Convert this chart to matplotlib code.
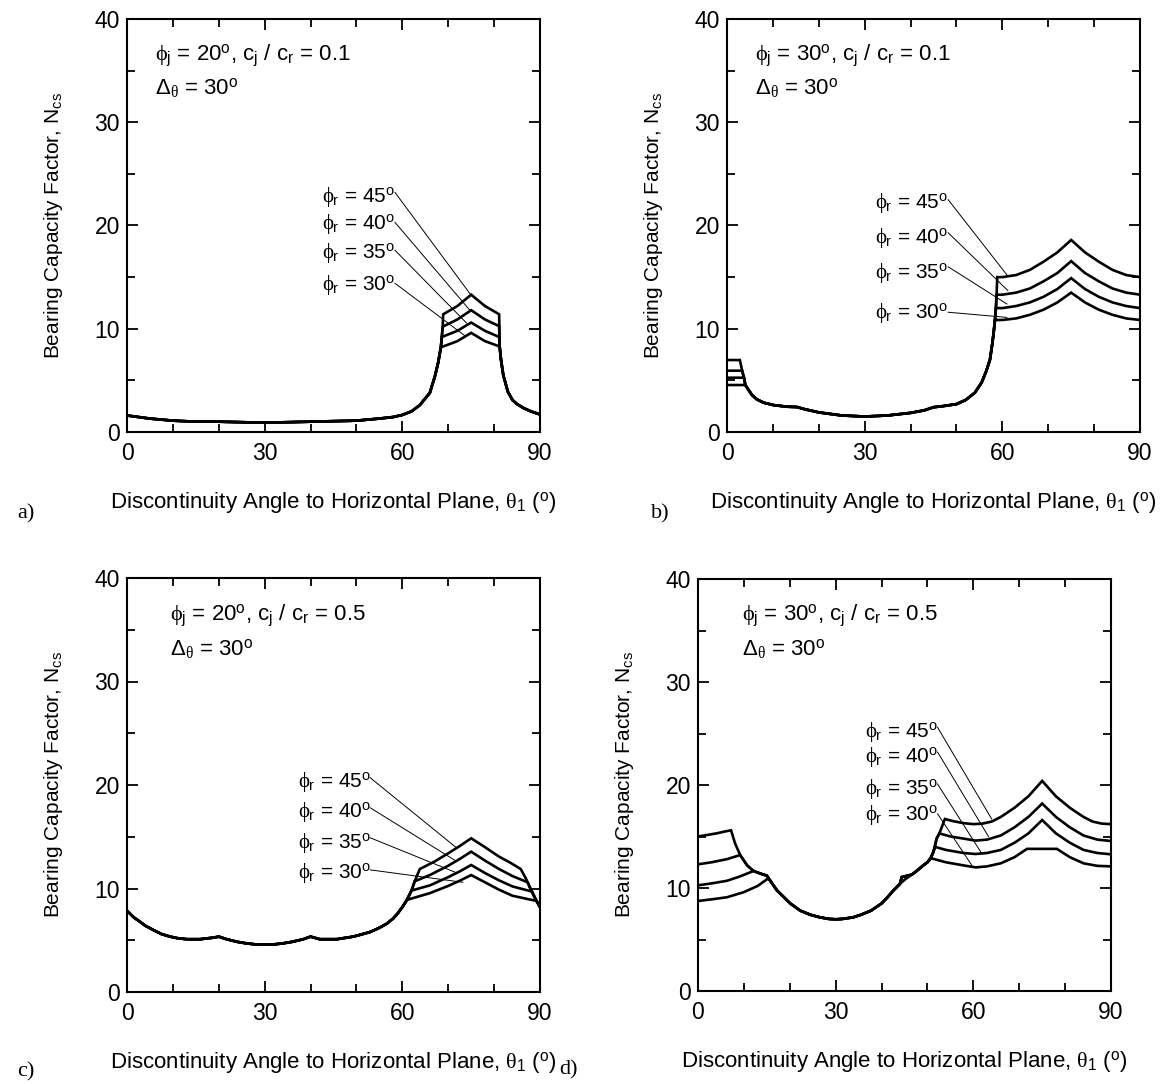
import matplotlib
matplotlib.use("Agg")
import matplotlib.pyplot as plt
from matplotlib.ticker import FixedLocator, MultipleLocator

plt.rcParams['font.family'] = ['Liberation Sans', 'DejaVu Sans']
plt.rcParams['mathtext.fontset'] = 'custom'
plt.rcParams['mathtext.rm'] = 'Liberation Sans'
plt.rcParams['mathtext.it'] = 'Liberation Serif'
plt.rcParams['mathtext.bf'] = 'Liberation Sans:bold'
plt.rcParams['mathtext.sf'] = 'Liberation Sans'

PHI_R = [45, 40, 35, 30]

# ---------------- Panel a: phi_j = 20, cj/cr = 0.1 ----------------
A_L_T = [0, 5, 10, 15, 20, 25, 30, 35, 40, 45, 50, 55, 58, 60, 62, 63.8, 66, 67.1, 67.8, 68.4]
A_L_N = [1.6, 1.3, 1.1, 1.0, 1.0, 0.95, 0.9, 0.95, 1.0, 1.05, 1.1, 1.3, 1.45, 1.65, 2.0, 2.6, 3.8, 5.4, 6.7, 8.2]
A45_T = [68.6, 68.8, 68.9, 72, 75, 78, 81.1]
A45_N = [9.2, 10.2, 11.4, 12.2, 13.3, 12.2, 11.4]
A40_T = [68.6, 68.8, 72, 75, 78, 81.1]
A40_N = [9.2, 10.2, 10.9, 11.8, 10.9, 10.25]
A35_T = [68.6, 72, 75, 78, 81.1]
A35_N = [9.2, 9.8, 10.6, 9.8, 9.2]
A30_T = [72, 75, 78, 81.1]
A30_N = [8.8, 9.6, 8.8, 8.3]
A_R_T = [81.2, 81.5, 82, 83, 84, 85, 86.5, 88, 90]
A_R_N = [8.3, 7.0, 5.5, 3.9, 3.1, 2.7, 2.3, 2.0, 1.7]
A_LAB_T = 42.5
A_LAB_N = [22.8, 20.1, 17.3, 14.2]
A_LEAD_T0 = 58.4
A_LEAD_N0 = [23.2, 20.3, 17.6, 14.4]
A_LEAD_T1 = [74.9, 74.7, 74.0, 73.7]
A_LEAD_N1 = [13.3, 11.8, 10.55, 9.3]

# ---------------- Panel b: phi_j = 30, cj/cr = 0.1 ----------------
B45_L_T = [0, 2.8, 3.3, 3.7]
B45_L_N = [6.97, 6.97, 5.94, 5.26]
B40_L_T = [0, 3.3, 3.7]
B40_L_N = [5.94, 5.94, 5.26]
B35_L_T = [0, 3.7]
B35_L_N = [5.26, 5.26]
B30_L_T = [0]
B30_L_N = [4.55]
B_M_T = [4.0, 4.7, 5.45, 6.5, 8, 10.2, 13.1, 15.2, 17, 20, 25, 30, 35, 40, 43, 45, 47, 50, 52, 54,
         55.5, 56.5, 57.3, 57.8, 58.1, 58.4]
B_M_N = [4.55, 4.07, 3.58, 3.16, 2.84, 2.6, 2.45, 2.42, 2.2, 1.9, 1.6, 1.5, 1.6, 1.85, 2.1, 2.4, 2.5, 2.7, 3.1, 3.8,
         4.8, 5.9, 7.0, 8.5, 9.6, 10.85]
B45_R_T = [58.6, 58.75, 58.9, 60, 63, 66, 69, 72, 75, 78, 81, 84, 87, 90]
B45_R_N = [12.0, 13.3, 15.0, 15.0, 15.2, 15.7, 16.5, 17.4, 18.6, 17.4, 16.5, 15.7, 15.2, 15.0]
B40_R_T = [58.6, 58.75, 60, 63, 66, 69, 72, 75, 78, 81, 84, 87, 90]
B40_R_N = [12.0, 13.3, 13.3, 13.5, 13.9, 14.6, 15.4, 16.55, 15.4, 14.6, 13.9, 13.5, 13.3]
B35_R_T = [58.6, 60, 63, 66, 69, 72, 75, 78, 81, 84, 87, 90]
B35_R_N = [12.0, 12.0, 12.2, 12.55, 13.1, 13.85, 14.9, 13.85, 13.1, 12.55, 12.2, 12.0]
B30_R_T = [60, 63, 66, 69, 72, 75, 78, 81, 84, 87, 90]
B30_R_N = [10.85, 11.0, 11.35, 11.85, 12.55, 13.5, 12.55, 11.85, 11.35, 11.0, 10.85]
B_LAB_T = 32.3
B_LAB_N = [22.2, 18.8, 15.4, 11.5]
B_LEAD_T0 = 48.2
B_LEAD_N0 = [22.5, 19.3, 16.0, 11.6]
B_LEAD_T1 = [61.2, 61.2, 61.0, 61.0]
B_LEAD_N1 = [15.1, 13.7, 12.4, 11.1]

# ---------------- Panel c: phi_j = 20, cj/cr = 0.5 ----------------
C_L_T = [0, 1.5, 2.8, 4, 5.7, 7.5, 9.4, 11, 13, 15.9, 18.8, 20, 21.7, 24, 26, 28, 30, 32, 34, 36, 38.4, 40,
         42, 45.7, 49.3, 51, 53, 55, 56.6, 58, 59, 60, 61]
C_L_N = [7.86, 7.2, 6.8, 6.4, 6.0, 5.6, 5.35, 5.2, 5.1, 5.1, 5.25, 5.35, 5.1, 4.85, 4.7, 4.6, 4.57, 4.6, 4.7, 4.85,
         5.1, 5.35, 5.1, 5.1, 5.35, 5.55, 5.8, 6.2, 6.6, 7.1, 7.6, 8.2, 8.9]
C45_T = [62, 62.7, 63.8, 67, 70, 72.5, 75, 78, 81, 83.5, 85.8, 87, 88, 89, 90]
C45_N = [9.8, 10.7, 11.88, 12.6, 13.4, 14.1, 14.85, 14.0, 13.1, 12.5, 11.88, 10.9, 9.9, 9.0, 8.2]
C40_T = [62, 62.7, 66, 70, 72.5, 75, 78, 81, 84, 87.3, 88, 89, 90]
C40_N = [9.8, 10.7, 11.3, 12.2, 12.85, 13.56, 12.7, 11.9, 11.2, 10.6, 9.9, 9.0, 8.2]
C35_T = [62, 66, 70, 72.5, 75, 78, 81, 84, 88.3, 89, 90]
C35_N = [9.8, 10.3, 11.1, 11.65, 12.27, 11.5, 10.8, 10.2, 9.7, 9.0, 8.2]
C30_T = [66, 70, 72.5, 75, 78, 81, 84, 89.2, 90]
C30_N = [9.55, 10.25, 10.75, 11.3, 10.6, 9.9, 9.3, 8.8, 8.2]
C_LAB_T = 37.3
C_LAB_N = [20.3, 17.4, 14.4, 11.5]
C_LEAD_T0 = 53.0
C_LEAD_N0 = [20.7, 17.8, 14.9, 11.8]
C_LEAD_T1 = [71.9, 71.9, 71.9, 73.2]
C_LEAD_N1 = [13.9, 12.6, 11.5, 10.6]

# ---------------- Panel d: phi_j = 30, cj/cr = 0.5 ----------------
D45_L_T = [0, 2, 4, 6, 7.2, 8.1, 9.2]
D45_L_N = [15.0, 15.15, 15.3, 15.5, 15.6, 14.3, 13.2]
D40_L_T = [0, 3, 6.3, 9.2]
D40_L_N = [12.3, 12.5, 12.8, 13.2]
D_S1_T = [10.7, 12.1]
D_S1_N = [12.2, 11.65]
D35_L_T = [0, 3, 6.3, 9, 12.1]
D35_L_N = [10.26, 10.45, 10.7, 11.1, 11.65]
D_S2_T = [13.6, 15.0]
D_S2_N = [11.4, 11.2]
D30_L_T = [0, 3, 6.3, 10, 13, 15.2]
D30_L_N = [8.74, 8.9, 9.1, 9.6, 10.2, 10.9]
D_M_T = [15.6, 17.2, 20.1, 22.3, 24.5, 26.6, 28.5, 30, 31.5, 33.8, 35.5, 37.7, 40, 41.3, 42.6, 44.0]
D_M_N = [10.8, 9.77, 8.5, 7.8, 7.4, 7.15, 7.0, 6.96, 7.0, 7.15, 7.4, 7.8, 8.5, 9.1, 9.77, 10.4]
D_SHOULDER_T = [44.4, 46.6]
D_SHOULDER_N = [11.06, 11.3]
D_DIRECT_T = [45.3, 46.6]
D_DIRECT_N = [10.9, 11.3]
D_RISE_T = [47.5, 49.1, 50.0, 50.7]
D_RISE_N = [11.6, 12.2, 12.5, 12.9]
D_R35_T = [51.3, 51.6]
D_R35_N = [13.5, 14.0]
D_R40_T = [52.0, 52.6]
D_R40_N = [14.8, 15.3]
D_R45_T = [53.2, 53.8]
D_R45_N = [16.0, 16.7]
D45_R_T = [55.5, 57.8, 60, 62, 64, 66, 69, 72, 75, 78, 81, 84, 86, 88, 90]
D45_R_N = [16.5, 16.3, 16.2, 16.25, 16.45, 16.9, 17.8, 18.9, 20.4, 18.9, 17.8, 16.9, 16.45, 16.25, 16.2]
D40_R_T = [55, 57.8, 60.5, 63, 66, 69, 72, 75, 78, 81, 84, 87, 90]
D40_R_N = [15.0, 14.8, 14.6, 14.7, 15.1, 15.9, 16.9, 18.2, 16.9, 15.9, 15.1, 14.7, 14.56]
D35_R_T = [54, 57.8, 60.5, 63, 66, 69, 72, 75, 78, 81, 84, 87, 90]
D35_R_N = [13.7, 13.4, 13.3, 13.4, 13.7, 14.4, 15.3, 16.6, 15.3, 14.4, 13.7, 13.4, 13.27]
D30_R_T = [54, 57.8, 60.5, 63, 66, 69, 71.7, 78.2, 81, 84, 87, 90]
D30_R_N = [12.5, 12.2, 12.0, 12.1, 12.4, 13.0, 13.8, 13.8, 13.0, 12.4, 12.15, 12.1]
D_LAB_T = 36.4
D_LAB_N = [25.1, 22.7, 19.6, 17.05]
D_LEAD_T0 = 52.2
D_LEAD_N0 = [25.6, 23.2, 20.1, 17.2]
D_LEAD_T1 = [64.0, 63.3, 61.9, 59.9]
D_LEAD_N1 = [16.7, 15.0, 13.3, 12.05]

PANEL_TITLES = [
    (r'$\phi_{\rm j}$ = 20$^{\rm o}$, c$_{\rm j}$ / c$_{\rm r}$ = 0.1', (6.1, 36.5), (6.1, 33.3)),
    (r'$\phi_{\rm j}$ = 30$^{\rm o}$, c$_{\rm j}$ / c$_{\rm r}$ = 0.1', (6.1, 36.5), (6.1, 33.3)),
    (r'$\phi_{\rm j}$ = 20$^{\rm o}$, c$_{\rm j}$ / c$_{\rm r}$ = 0.5', (9.4, 36.4), (9.4, 33.1)),
    (r'$\phi_{\rm j}$ = 30$^{\rm o}$, c$_{\rm j}$ / c$_{\rm r}$ = 0.5', (9.5, 36.5), (9.5, 33.2)),
]
DELTA_TEXT = r'$\Delta_\theta$ = 30$^{\rm o}$'
XLABEL = r'Discontinuity Angle to Horizontal Plane, $\theta_{\rm 1}$ ($^{\rm o}$)'
YLABEL = r'Bearing Capacity Factor, N$_{\rm cs}$'
PANEL_LETTERS = ['a)', 'b)', 'c)', 'd)']


def cat(*parts):
    out = []
    for p in parts:
        out += list(p)
    return out


def build_curves():
    a = {
        45: (cat(A_L_T, A45_T, A_R_T), cat(A_L_N, A45_N, A_R_N)),
        40: (cat(A_L_T, A40_T, A_R_T), cat(A_L_N, A40_N, A_R_N)),
        35: (cat(A_L_T, A35_T, A_R_T), cat(A_L_N, A35_N, A_R_N)),
        30: (cat(A_L_T, A30_T, A_R_T), cat(A_L_N, A30_N, A_R_N)),
    }
    b = {
        45: (cat(B45_L_T, B_M_T, B45_R_T), cat(B45_L_N, B_M_N, B45_R_N)),
        40: (cat(B40_L_T, B_M_T, B40_R_T), cat(B40_L_N, B_M_N, B40_R_N)),
        35: (cat(B35_L_T, B_M_T, B35_R_T), cat(B35_L_N, B_M_N, B35_R_N)),
        30: (cat(B30_L_T, B_M_T, B30_R_T), cat(B30_L_N, B_M_N, B30_R_N)),
    }
    c = {
        45: (cat(C_L_T, C45_T), cat(C_L_N, C45_N)),
        40: (cat(C_L_T, C40_T), cat(C_L_N, C40_N)),
        35: (cat(C_L_T, C35_T), cat(C_L_N, C35_N)),
        30: (cat(C_L_T, C30_T), cat(C_L_N, C30_N)),
    }
    d = {
        45: (cat(D45_L_T, D_S1_T, D_S2_T, D_M_T, D_SHOULDER_T, D_RISE_T, D_R35_T, D_R40_T, D_R45_T, D45_R_T),
             cat(D45_L_N, D_S1_N, D_S2_N, D_M_N, D_SHOULDER_N, D_RISE_N, D_R35_N, D_R40_N, D_R45_N, D45_R_N)),
        40: (cat(D40_L_T, D_S1_T, D_S2_T, D_M_T, D_SHOULDER_T, D_RISE_T, D_R35_T, D_R40_T, D40_R_T),
             cat(D40_L_N, D_S1_N, D_S2_N, D_M_N, D_SHOULDER_N, D_RISE_N, D_R35_N, D_R40_N, D40_R_N)),
        35: (cat(D35_L_T, D_S2_T, D_M_T, D_SHOULDER_T, D_RISE_T, D_R35_T, D35_R_T),
             cat(D35_L_N, D_S2_N, D_M_N, D_SHOULDER_N, D_RISE_N, D_R35_N, D35_R_N)),
        30: (cat(D30_L_T, D_M_T, D_DIRECT_T, D_RISE_T, D30_R_T),
             cat(D30_L_N, D_M_N, D_DIRECT_N, D_RISE_N, D30_R_N)),
    }
    return [a, b, c, d]


LABELS = [
    (A_LAB_T, A_LAB_N, A_LEAD_T0, A_LEAD_N0, A_LEAD_T1, A_LEAD_N1),
    (B_LAB_T, B_LAB_N, B_LEAD_T0, B_LEAD_N0, B_LEAD_T1, B_LEAD_N1),
    (C_LAB_T, C_LAB_N, C_LEAD_T0, C_LEAD_N0, C_LEAD_T1, C_LEAD_N1),
    (D_LAB_T, D_LAB_N, D_LEAD_T0, D_LEAD_N0, D_LEAD_T1, D_LEAD_N1),
]

W, H = 1167, 1084
fig = plt.figure(figsize=(W / 100, H / 100), dpi=100)

# axes boxes in pixels: left, top, right, bottom
BOXES = [(127, 19, 540, 432), (727, 19, 1140, 432), (127, 578, 540, 992), (698, 579, 1111, 991)]
LETTER_POS = [(26, 514), (660, 514), (26, 1072), (568, 1070)]

curves = build_curves()
for i, (l, t, r, bt) in enumerate(BOXES):
    ax = fig.add_axes([l / W, 1 - bt / H, (r - l) / W, (bt - t) / H])
    for k, phi in enumerate(PHI_R):
        th, nn = curves[i][phi]
        ax.plot(th, nn, color='black', lw=1.9, solid_joinstyle='miter')
    lab_t, lab_n, t0, n0, t1, n1 = LABELS[i]
    for k, phi in enumerate(PHI_R):
        ax.text(lab_t, lab_n[k], r'$\phi_{\rm r}$ = %d$^{\rm o}$' % phi, fontsize=15,
                ha='left', va='center')
        ax.plot([t0, t1[k]], [n0[k], n1[k]], color='black', lw=0.7)
    title, p1, p2 = PANEL_TITLES[i]
    ax.text(p1[0], p1[1], title, fontsize=16, ha='left', va='center')
    ax.text(p2[0], p2[1], DELTA_TEXT, fontsize=16, ha='left', va='center')

    ax.set_xlim(0, 90)
    ax.set_ylim(0, 40)
    ax.xaxis.set_major_locator(FixedLocator([0, 30, 60, 90]))
    ax.xaxis.set_minor_locator(MultipleLocator(10))
    ax.yaxis.set_major_locator(MultipleLocator(10))
    ax.yaxis.set_minor_locator(MultipleLocator(5))
    ax.tick_params(which='both', direction='in', top=True, right=True, width=1.3)
    ax.tick_params(which='major', length=8)
    ax.tick_params(which='minor', length=6)
    ax.tick_params(axis='x', which='major', labelsize=16.5, pad=7.5)
    ax.tick_params(axis='y', which='major', labelsize=16.5, pad=5)
    for s in ax.spines.values():
        s.set_linewidth(1.5)
    ax.set_xlabel(XLABEL, fontsize=16)
    ax.set_ylabel(YLABEL, fontsize=15)
    ax.xaxis.set_label_coords(0.5, -0.14)
    ax.yaxis.set_label_coords(-0.15, 0.5)

    lx, ly = LETTER_POS[i]
    fig.text(lx / W, 1 - ly / H, PANEL_LETTERS[i], fontsize=16, family='Liberation Serif',
             ha='center', va='center')

fig.savefig('out.png', dpi=100)
